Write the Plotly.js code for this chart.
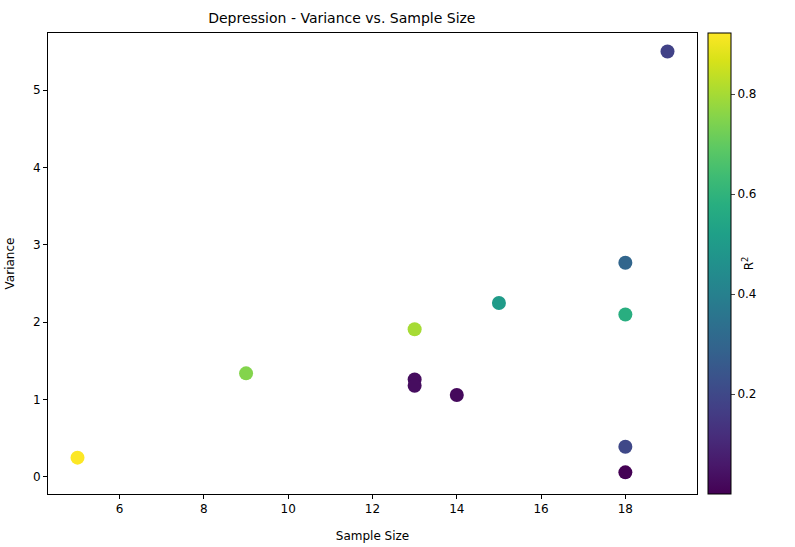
<html><head><script src="https://cdn.plot.ly/plotly-3.0.1.min.js"></script></head><body style="margin:0">
<div id="c" style="width:795px;height:547px"></div>
<script>
const sampleSize=[5,9,13,13,13,14,15,18,18,18,18,19];
const variance=[0.25,1.34,1.91,1.26,1.18,1.06,2.25,2.77,2.10,0.39,0.06,5.50];
const r2=[0.92,0.75,0.80,0.03,0.03,0.02,0.50,0.30,0.58,0.20,0.0,0.18];
const ax={showgrid:false,zeroline:false,showline:true,mirror:true,linecolor:'black',ticks:'outside',ticklen:4,tickcolor:'black',tickfont:{size:12}};
Plotly.newPlot('c',[{x:sampleSize,y:variance,mode:'markers',type:'scatter',
marker:{size:14,color:r2,colorscale:'Viridis',cmin:0,cmax:0.922,
colorbar:{x:1.017,xanchor:'left',xpad:0,ypad:0,len:1,y:0.5,yanchor:'middle',thickness:23,outlinewidth:1,outlinecolor:'black',ticks:'outside',ticklen:4,
tickvals:[0.2,0.4,0.6,0.8],tickfont:{size:12},title:{text:'R<sup>2</sup>',side:'right',font:{size:12}}}}}],
{width:795,height:547,margin:{l:48,r:98,t:33,b:53},plot_bgcolor:'white',
font:{family:'DejaVu Sans',color:'black'},
title:{text:'Depression - Variance vs. Sample Size',font:{size:14},x:0.43,y:0.975},
xaxis:Object.assign({range:[4.3,19.7],dtick:2,title:{text:'Sample Size',font:{size:12}}},ax),
yaxis:Object.assign({range:[-0.22,5.74],dtick:1,title:{text:'Variance',font:{size:12}}},ax)},
{displayModeBar:false});
</script></body></html>
